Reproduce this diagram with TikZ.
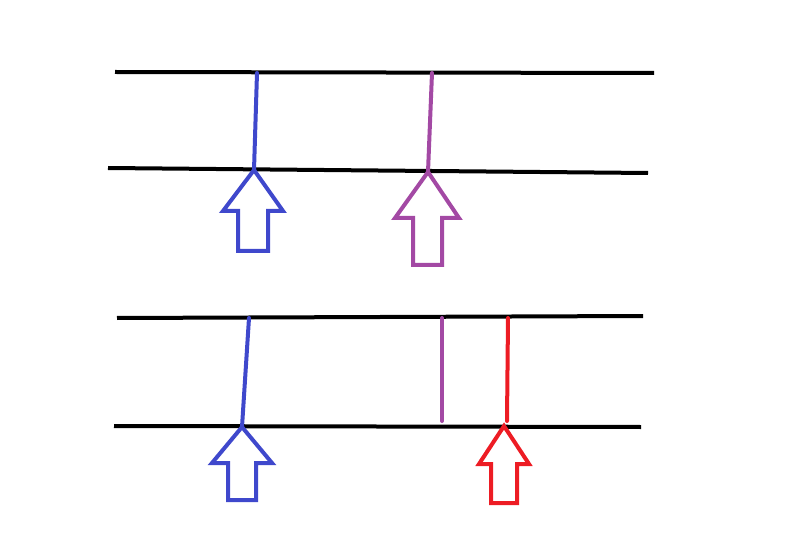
\documentclass[tikz,border=0pt]{standalone}
\usepackage{tikz}
\usetikzlibrary{calc}

\definecolor{pblue}{HTML}{3F48CC}
\definecolor{ppurple}{HTML}{A349A4}
\definecolor{pred}{HTML}{ED1C24}

\begin{document}
\begin{tikzpicture}[x=1pt, y=-1pt,
  rail/.style={line width=4pt, black},
  bond/.style={line width=4pt, line cap=round},
  uparrow/.style={line width=4pt, line join=miter}
]
\useasboundingbox (0,0) rectangle (800,545);

% horizontal lines
\draw[rail] (115,72) -- (654,73);
\draw[rail] (108,168) -- (648,173);
\draw[rail] (117,318) -- (643,316);
\draw[rail] (114,426) -- (641,427);

% upper pair
\coordinate (tipA) at (254,170);
\coordinate (tipB) at (428,172);
\draw[bond, pblue] (257,73) -- (tipA);
\draw[bond, ppurple] (432,73) -- (tipB);
\draw[uparrow, pblue] (tipA) -- (283,211) -- (268,211) -- (268,251)
  -- (238,251) -- (238,211) -- (223,211) -- cycle;
\draw[uparrow, ppurple] (tipB) -- (459,218) -- (442,218) -- (442,265)
  -- (413,265) -- (413,218) -- (395,218) -- cycle;

% lower pair
\coordinate (tipC) at (242,427);
\coordinate (tipD) at (504,426);
\draw[bond, pblue] (249,318) -- (tipC);
\draw[bond, ppurple] (442,318) -- (442,421);
\draw[bond, pred] (508,318) -- (507,421);
\draw[uparrow, pblue] (tipC) -- (272,463) -- (256,463) -- (256,500)
  -- (228,500) -- (228,463) -- (212,463) -- cycle;
\draw[uparrow, pred] (tipD) -- (529,464) -- (517,464) -- (517,503)
  -- (491,503) -- (491,464) -- (479,464) -- cycle;
\end{tikzpicture}
\end{document}
